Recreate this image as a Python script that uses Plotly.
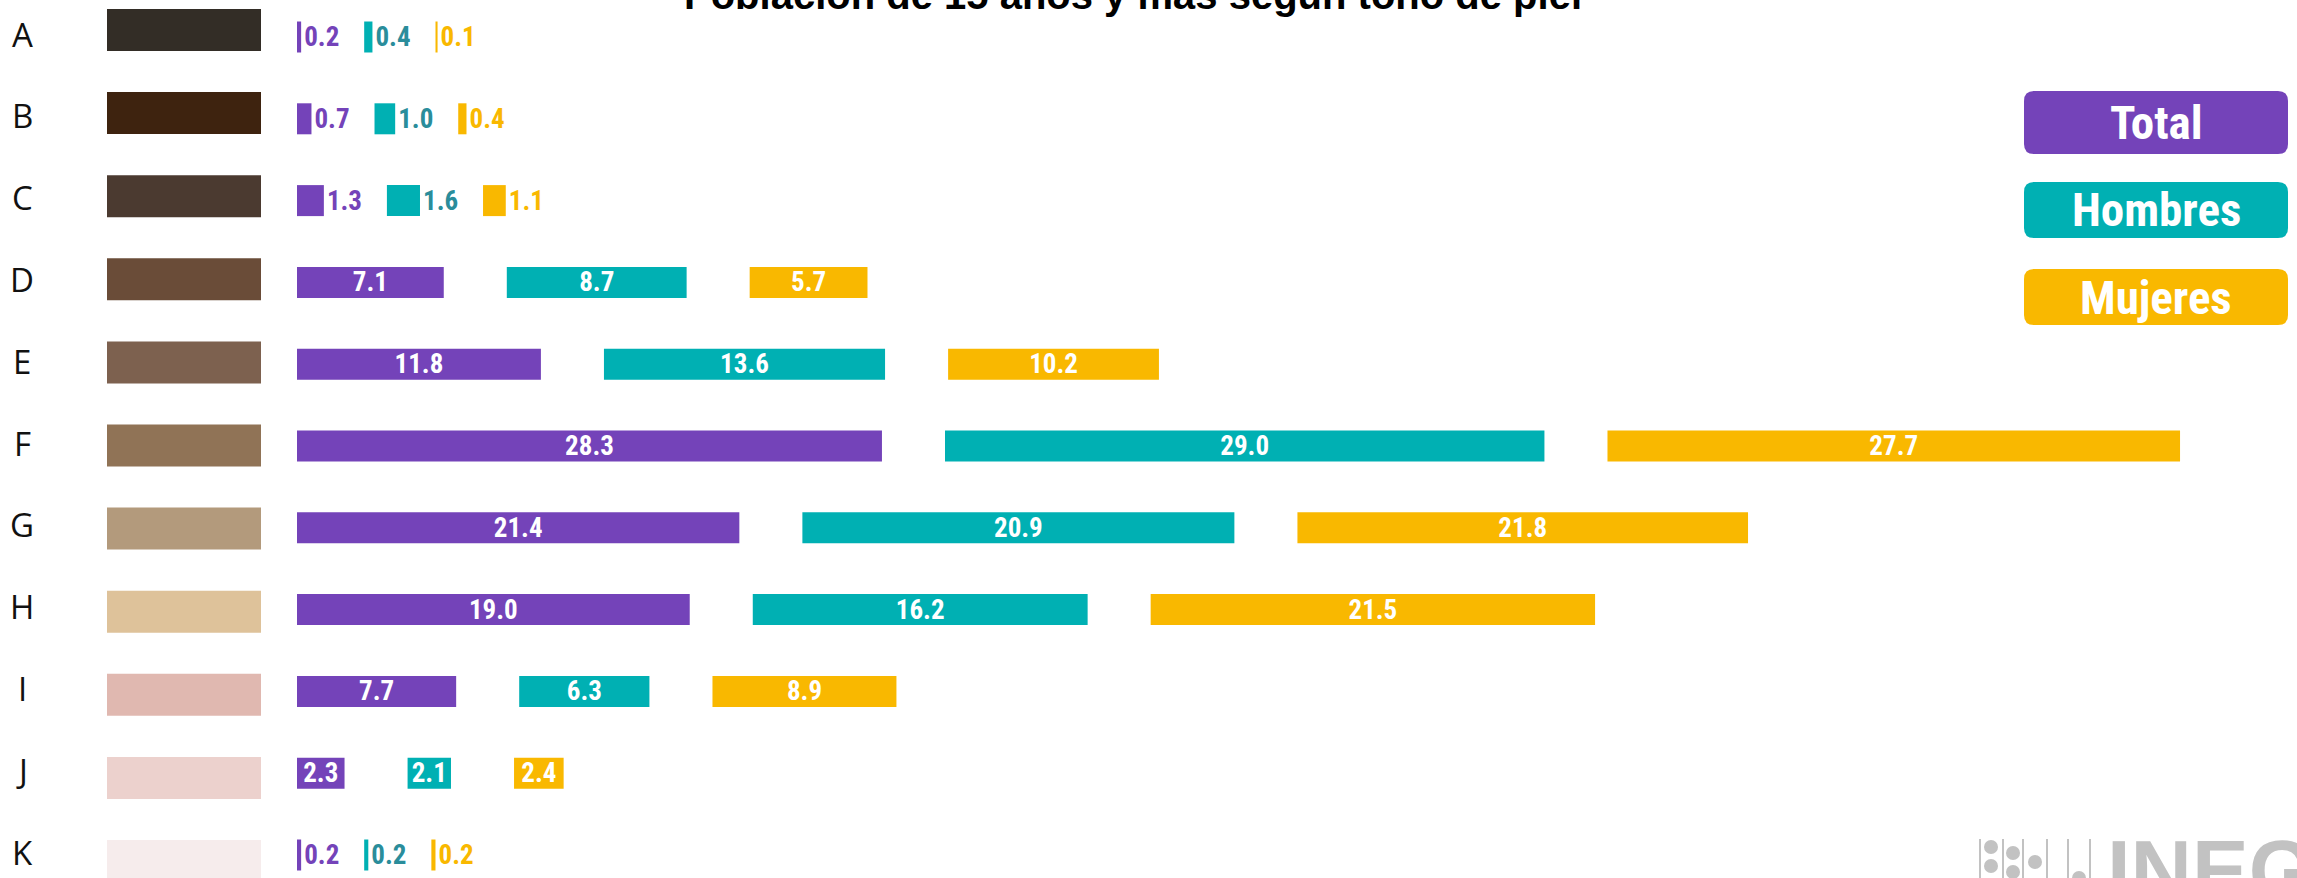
import plotly.graph_objects as go

# ---------------- data ----------------
categories = ["A", "B", "C", "D", "E", "F", "G", "H", "I", "J", "K"]
total = [0.2, 0.7, 1.3, 7.1, 11.8, 28.3, 21.4, 19.0, 7.7, 2.3, 0.2]
hombres = [0.4, 1.0, 1.6, 8.7, 13.6, 29.0, 20.9, 16.2, 6.3, 2.1, 0.2]
mujeres = [0.1, 0.4, 1.1, 5.7, 10.2, 27.7, 21.8, 21.5, 8.9, 2.4, 0.2]
tone_colors = ["#332d26", "#3e230f", "#4b3a30", "#6a4c38", "#7d614f", "#907356",
               "#b39a7c", "#dec29a", "#e0b8b0", "#ecd1cd", "#f6ecec"]
series_names = ["Total", "Hombres", "Mujeres"]
title_text = "Población de 15 años y más según tono de piel"

# ---------------- style ----------------
W, H = 2297, 878
C_TOTAL, C_HOM, C_MUJ = "#7443b9", "#00b0b3", "#f9b800"
OUT_COLORS = ["#7443b9", "#2a8d9b", "#f9b800"]
GAP = 3.05                 # gap between consecutive bars of a row (data units)
X0_PX, PX_PER_UNIT = 297, 20.67
NARROW = "Liberation Sans Narrow, Arial Narrow, Roboto Condensed, Liberation Sans, Arial"

x_range = [-X0_PX / PX_PER_UNIT, (W - X0_PX) / PX_PER_UNIT]
# bar rows: center pixel = 37 + 81.8*i ; swatch rows: 30 + 83.1*i
y_range_bars = [(H - 37) / 81.8, -37 / 81.8]
y_range_sw = [(H - 30) / 83.1, -30 / 83.1]

fig = go.Figure()

# skin tone swatches
sw_base = (107 - X0_PX) / PX_PER_UNIT
sw_len = (261 - 107) / PX_PER_UNIT
fig.add_trace(go.Bar(
    y=categories, x=[sw_len] * len(categories), base=[sw_base] * len(categories),
    orientation="h", width=42 / 83.1, marker=dict(color=tone_colors, line=dict(width=0)),
    yaxis="y2", showlegend=False, hoverinfo="skip"))

# data bars laid end to end with a gap
bases_t = [0.0] * len(total)
bases_h = [t + GAP for t in total]
bases_m = [t + h + 2 * GAP for t, h in zip(total, hombres)]
for vals, bases, col, ocol, name in zip(
        [total, hombres, mujeres], [bases_t, bases_h, bases_m],
        [C_TOTAL, C_HOM, C_MUJ], OUT_COLORS, series_names):
    fig.add_trace(go.Bar(
        y=categories, x=vals, base=bases, orientation="h", name=name,
        width=31 / 81.8,
        marker=dict(color=col, line=dict(width=0)),
        text=[f"{v:.1f}" for v in vals],
        textposition=["inside" if v >= 2 else "outside" for v in vals],
        insidetextanchor="middle",
        constraintext="none",
        insidetextfont=dict(family=NARROW, size=27, color="white", weight="bold"),
        outsidetextfont=dict(family=NARROW, size=27, color=ocol, weight="bold"),
        cliponaxis=False,
        showlegend=False, hoverinfo="skip"))

annotations = []
# row labels
for c in categories:
    annotations.append(dict(x=(22 - X0_PX) / PX_PER_UNIT, y=c, xref="x", yref="y",
                            text=c, showarrow=False, xanchor="center", yanchor="middle",
                            yshift=3,
                            font=dict(family="Open Sans", size=33, color="#111111")))

# title (partially cut at top)
annotations.append(dict(x=1133 / W, y=1 + 4.85 / H, xref="paper", yref="paper",
                        text=title_text, showarrow=False, xanchor="center", yanchor="middle",
                        font=dict(family="Liberation Sans, Arial", size=40, color="#000000",
                                  weight="bold")))

# legend boxes
shapes = []
boxes = [(91, 154), (182, 238), (269, 325)]
bx0, bx1, r = 2024, 2288, 10


def px(xp):
    return xp / W


def py(yp):
    return 1 - yp / H


for (y0, y1), col, name in zip(boxes, [C_TOTAL, C_HOM, C_MUJ], series_names):
    path = (f"M {px(bx0 + r)},{py(y0)} L {px(bx1 - r)},{py(y0)} "
            f"Q {px(bx1)},{py(y0)} {px(bx1)},{py(y0 + r)} "
            f"L {px(bx1)},{py(y1 - r)} Q {px(bx1)},{py(y1)} {px(bx1 - r)},{py(y1)} "
            f"L {px(bx0 + r)},{py(y1)} Q {px(bx0)},{py(y1)} {px(bx0)},{py(y1 - r)} "
            f"L {px(bx0)},{py(y0 + r)} Q {px(bx0)},{py(y0)} {px(bx0 + r)},{py(y0)} Z")
    shapes.append(dict(type="path", path=path, xref="paper", yref="paper",
                       fillcolor=col, line=dict(width=0), layer="above"))
    annotations.append(dict(x=px((bx0 + bx1) / 2), y=py((y0 + y1) / 2), xref="paper",
                            yref="paper", text=name, showarrow=False,
                            xanchor="center", yanchor="middle",
                            font=dict(family=NARROW, size=47, color="white", weight="bold")))

# INEGI logo (partially cut at bottom)
LOGO = "#c2c2c2"
for lx in [1980, 2003, 2023, 2047, 2068, 2090]:
    shapes.append(dict(type="line", xref="paper", yref="paper",
                       x0=px(lx), x1=px(lx), y0=py(839), y1=py(878),
                       line=dict(color=LOGO, width=2)))
for cx, cy in [(1991, 847), (1991, 866), (2013, 853), (2013, 872), (2035, 862), (2079, 878)]:
    rr = 7
    shapes.append(dict(type="circle", xref="paper", yref="paper",
                       x0=px(cx - rr), x1=px(cx + rr), y0=py(cy + rr), y1=py(cy - rr),
                       fillcolor=LOGO, line=dict(width=0)))
annotations.append(dict(x=px(2105), y=py(870.5), xref="paper", yref="paper",
                        text="INEGI", showarrow=False, xanchor="left", yanchor="middle",
                        font=dict(family="Liberation Sans, Arial", size=85, color=LOGO,
                                  weight="bold")))

fig.update_layout(
    width=W, height=H,
    margin=dict(l=0, r=0, t=0, b=0),
    paper_bgcolor="white", plot_bgcolor="white",
    barmode="overlay",
    showlegend=False,
    hovermode=False,
    xaxis=dict(range=x_range, visible=False, fixedrange=True),
    yaxis=dict(type="category", categoryorder="array", categoryarray=categories,
               range=y_range_bars, visible=False, fixedrange=True),
    yaxis2=dict(type="category", categoryorder="array", categoryarray=categories,
                range=y_range_sw, visible=False, overlaying="y", fixedrange=True),
    shapes=shapes,
    annotations=annotations,
)

fig.write_html("out.html", config={"displayModeBar": False},
               post_script="document.body.style.margin='0';document.body.style.overflow='hidden';")
